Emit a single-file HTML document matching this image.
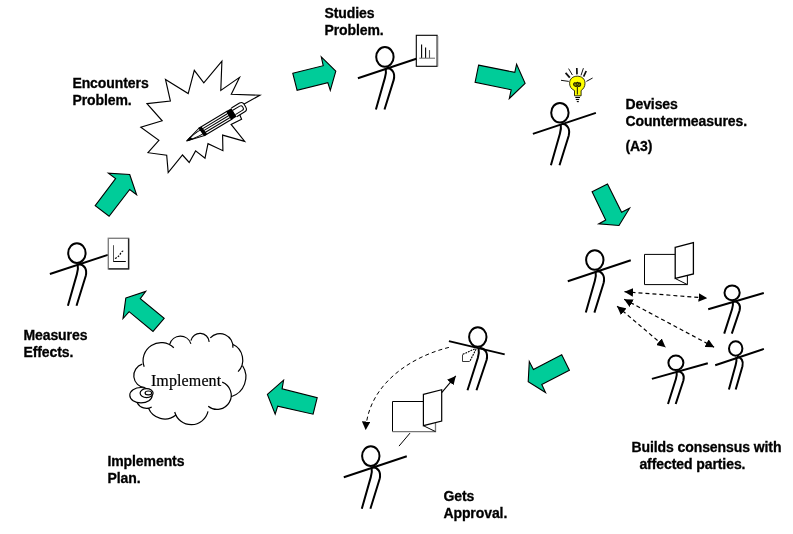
<!DOCTYPE html>
<html><head><meta charset="utf-8">
<style>
html,body{margin:0;padding:0;background:#fff;}
body{width:793px;height:534px;overflow:hidden;position:relative;}
svg{position:absolute;left:0;top:0;will-change:transform;}
.t{font-family:"Liberation Sans",sans-serif;font-weight:bold;font-size:14px;letter-spacing:-0.08px;fill:#000;stroke:#000;stroke-width:0.3px;}
.ar{fill:#00CC99;stroke:#000;stroke-width:1.1;stroke-linejoin:miter;}
.sf{fill:none;stroke:#000;stroke-width:2;stroke-linecap:butt;}
.dl{fill:none;stroke:#000;stroke-width:1.2;stroke-dasharray:4 3;}
</style></head>
<body>
<svg width="793" height="534" viewBox="0 0 793 534">
<defs>
  <g id="legs">
    <path class="sf" d="M0.8,11.4 Q1.6,15.5 0,21 L-9,52.6"/>
    <path class="sf" d="M1.6,10.8 C7.5,11.5 10.5,16 8.8,23 L-0.4,52.6"/>
  </g>
  <g id="fig">
    <ellipse class="sf" cx="0" cy="0" rx="8.7" ry="9.8"/>
    <line class="sf" x1="-27" y1="21.2" x2="36" y2="0.2"/>
    <use href="#legs"/>
  </g>
  <marker id="ah" viewBox="0 0 10 10" refX="10" refY="5" markerWidth="8.6" markerHeight="8.6" markerUnits="userSpaceOnUse" orient="auto-start-reverse">
    <path d="M0,0 L10,5 L0,10 z" fill="#000"/>
  </marker>
</defs>

<!-- Texts -->
<text class="t" x="72.4" y="87.7">Encounters</text>
<text class="t" x="72.4" y="105.4">Problem.</text>
<text class="t" x="324.4" y="18.2">Studies</text>
<text class="t" x="324.4" y="35.1">Problem.</text>
<text class="t" x="625.4" y="108.5">Devises</text>
<text class="t" x="625.4" y="125.7">Countermeasures.</text>
<text class="t" x="625.4" y="150.9">(A3)</text>
<text class="t" x="631.4" y="451.9">Builds consensus with</text>
<text class="t" x="639.4" y="468.6">affected parties.</text>
<text class="t" x="443.4" y="500.8">Gets</text>
<text class="t" x="443.4" y="517.5">Approval.</text>
<text class="t" x="107.4" y="465.6">Implements</text>
<text class="t" x="107.4" y="483.1">Plan.</text>
<text class="t" x="23.4" y="339.8">Measures</text>
<text class="t" x="23.4" y="357">Effects.</text>

<!-- Green arrows -->
<polygon class="ar" points="292.8,73.3 323.2,65.7 321.3,56.9 335.8,71.1 330.3,90.3 327.8,82.7 297.1,90.3"/>
<polygon class="ar" points="478.6,65.1 514.8,72.3 516.6,64.2 525.1,83.3 509.3,98.5 511.2,89.8 475.1,82.2"/>
<polygon class="ar" points="592.1,191.7 607.5,184.1 621.6,212.3 629.6,208.2 619,225.5 598.7,223.9 605.7,220.1"/>
<polygon class="ar" points="561.7,354.8 569.4,370.2 541.8,384.6 545.5,392.5 528.2,381.8 529.3,361.5 533.4,369.5"/>
<polygon class="ar" points="283.6,380.2 282.1,388.9 317.2,397.6 313.1,414.2 277.7,406.2 275.2,414.2 267.4,394.4"/>
<polygon class="ar" points="125.8,298.1 145.7,291.4 140.3,298.6 164.2,318.3 153,331.4 129.1,311.7 123,318.6"/>
<polygon class="ar" points="129.7,174.5 136.6,194.7 129.7,189.5 109.1,216.3 95.2,205.7 115.6,178.6 108.4,173.2"/>

<!-- Starburst -->
<polygon fill="#fff" stroke="#000" stroke-width="1.15" stroke-linejoin="miter" points="147,103.6 170.4,101 165.5,79.4 188.2,93.6 194.3,70.3 203.8,82.8 221.9,61.2 220.8,90.4 239.5,77.4 231.3,94.2 259.9,95.2 237,108 241.6,119.2 231.1,124.4 244.7,141.4 222.6,135.1 222.9,150.7 208,143.7 205,158.2 195.6,150.9 189.2,162.5 182.5,155 168.2,172.6 166.7,155.3 148,152.7 158.9,140.3 140.8,127.2 162.2,120.8"/>

<!-- Pencil -->
<g transform="translate(186.5,141) rotate(-31)">
  <path d="M0,0 L17.6,-4.6 L18.4,4.6 Z" fill="#fff" stroke="#000" stroke-width="1"/>
  <path d="M1,0.3 C8,-2 12,-2.6 17.8,-2.3 M1,0.3 C8,1.5 13,2.6 18.2,2.3" fill="none" stroke="#000" stroke-width="0.9"/>
  <path d="M-0.5,0 L5.5,-1.8 L6.2,2 Z" fill="#000"/>
  <path d="M17.6,-4.6 L50,-4.6 L50,4.6 L18.4,4.6 Z" fill="#fff" stroke="#000" stroke-width="1.1"/>
  <line x1="17.9" y1="-2.3" x2="50" y2="-2.3" stroke="#000" stroke-width="1"/>
  <line x1="18.1" y1="0" x2="50" y2="0" stroke="#000" stroke-width="1"/>
  <line x1="18.3" y1="2.3" x2="50" y2="2.3" stroke="#000" stroke-width="1"/>
  <path d="M16.8,-4.8 L20.3,-4.8 L21.3,4.8 L17.8,4.8 Z" fill="#000"/>
  <rect x="49.3" y="-5" width="6.4" height="10" fill="#000"/>
  <path d="M55.5,-5.2 L65,-5.2 Q68.3,-5.2 68.3,-1.5 L68.3,1.3 Q68.3,5 65,5 L55.5,5" fill="#fff" stroke="#000" stroke-width="1.1"/>
  <path d="M55.5,-2.5 L63.6,-2.5 Q65.7,-2.5 65.7,-0.5 L65.7,0.6 Q65.7,2.5 63.6,2.5 L55.5,2.5" fill="none" stroke="#000" stroke-width="1"/>
</g>

<!-- Doc with chart (Studies) -->
<rect x="416.3" y="35.3" width="20.8" height="31" fill="#fff" stroke="#000" stroke-width="1.1"/>
<line x1="437.8" y1="36" x2="437.8" y2="66.5" stroke="#888" stroke-width="1"/>
<line x1="421.6" y1="44.4" x2="421.6" y2="58" stroke="#000" stroke-width="1.1"/>
<line x1="425.6" y1="47.5" x2="425.6" y2="58" stroke="#000" stroke-width="1.1"/>
<line x1="429.5" y1="50.1" x2="429.5" y2="58" stroke="#555" stroke-width="1.1"/>
<line x1="419.3" y1="58.2" x2="435" y2="58.2" stroke="#666" stroke-width="1"/>

<!-- Stick figures -->
<g transform="translate(384.9,56.9)">
  <ellipse class="sf" cx="0" cy="0" rx="8.7" ry="9.8"/>
  <line class="sf" x1="-27" y1="21.3" x2="31.4" y2="1.8"/>
  <use href="#legs"/>
</g>
<use href="#fig" transform="translate(559.9,112.7)"/>
<use href="#fig" transform="translate(594.8,260)"/>
<g transform="translate(732.1,292.8)">
  <ellipse class="sf" cx="0" cy="0" rx="7.6" ry="7.4" stroke-width="1.8"/>
  <line class="sf" x1="-23.9" y1="16.5" x2="31.7" y2="0.2" stroke-width="1.8"/>
  <path class="sf" stroke-width="1.8" d="M0.70,8.6 Q1.30,12 0,16.2 L-7.9,40.8"/>
  <path class="sf" stroke-width="1.8" d="M1.30,8.2 C6.30,8.7 8.90,12.3 7.50,17.7 L-0.3,40.8"/>
</g>
<g transform="translate(675.9,362.8)">
  <ellipse class="sf" cx="0" cy="0" rx="7.5" ry="7.3" stroke-width="1.8"/>
  <line class="sf" x1="-24" y1="16.1" x2="31.9" y2="0.5" stroke-width="1.8"/>
  <path class="sf" stroke-width="1.8" d="M0.70,8.6 Q1.30,12 0,16.2 L-7.9,41.2"/>
  <path class="sf" stroke-width="1.8" d="M1.30,8.2 C6.30,8.7 8.90,12.3 7.50,17.7 L-0.2,41.2"/>
</g>
<g transform="translate(735.7,348.5)">
  <ellipse class="sf" cx="0" cy="0" rx="6.7" ry="7.3" stroke-width="1.8"/>
  <line class="sf" x1="-20.5" y1="16.7" x2="28.2" y2="0.4" stroke-width="1.8"/>
  <path class="sf" stroke-width="1.8" d="M0.63,8.6 Q1.17,12 0,16.2 L-6.8,41"/>
  <path class="sf" stroke-width="1.8" d="M1.17,8.2 C5.67,8.7 8.01,12.3 6.75,17.7 L0,41"/>
</g>
<use href="#fig" transform="translate(370.8,456.1)"/>
<g transform="translate(76.9,253.1)">
  <ellipse class="sf" cx="0" cy="0" rx="8.7" ry="9.8"/>
  <line class="sf" x1="-27" y1="20.9" x2="31" y2="1.8"/>
  <use href="#legs"/>
</g>
<!-- Approval top figure -->
<g transform="translate(477.8,337)">
  <ellipse class="sf" cx="0" cy="0" rx="8.7" ry="9.8"/>
  <line class="sf" x1="-28.9" y1="4.1" x2="26.9" y2="17.4"/>
  <path class="sf" d="M0.8,11.4 Q1.6,15.5 0,21 L-10.3,53.2"/>
  <path class="sf" d="M1.6,10.8 C7.5,11.5 10.5,16 8.8,23 L-1.3,53.2"/>
</g>
<path d="M462.5,354.5 L462.5,361.5 L469.7,361.5" fill="none" stroke="#222" stroke-width="0.9"/>
<path d="M474.7,348.9 L462.5,354.5 M476.1,349.1 L469.7,361.5" fill="none" stroke="#000" stroke-width="1.1" stroke-dasharray="1.8 1"/>

<!-- Lightbulb -->
<g>
  <g stroke="#111" stroke-width="1">
    <line x1="561" y1="80.3" x2="568.8" y2="81.4"/>
    <line x1="565.6" y1="72.8" x2="569.8" y2="77.6" stroke-width="1.8"/>
    <line x1="568.6" y1="68.6" x2="572.4" y2="75"/>
    <line x1="576.8" y1="68" x2="577" y2="74.4" stroke-width="1.7"/>
    <line x1="583.4" y1="68.2" x2="581" y2="75.4"/>
    <line x1="586.2" y1="71" x2="583.6" y2="76.6" stroke-width="1.7"/>
    <line x1="592.6" y1="78" x2="586.4" y2="81.4"/>
  </g>
  <path d="M574.5,95.8 L574.5,90.6 C571.2,89 569.6,86.5 569.6,83.3 C569.6,78.8 572.8,76.2 577.3,76.2 C581.8,76.2 585,78.8 585,83.3 C585,86.5 583.4,89 581.1,90.6 L581.1,95.8 Z" fill="#ffff00" stroke="#1a1a00" stroke-width="0.9"/>
  <path d="M573.6,84.5 C573.6,82.5 575.5,82.2 576.2,83.6 C576.6,82 578.4,82 578.8,83.6 C579.5,82.2 581,82.8 580.6,85 C580,86.6 578,86.8 577.3,85.6 C576.6,86.8 574,86.6 573.6,84.5 Z" fill="#8a8a00" stroke="#1a1a00" stroke-width="1.1"/>
  <line x1="577.4" y1="87" x2="577.4" y2="94.5" stroke="#3a3a00" stroke-width="1.2"/>
  <g stroke="#000" stroke-width="1.1">
    <line x1="575.3" y1="97.5" x2="580" y2="97.5"/>
    <line x1="575.8" y1="99.5" x2="579.2" y2="99.5"/>
    <line x1="576.8" y1="101.6" x2="578.8" y2="101.6"/>
  </g>
</g>

<!-- Consensus docs -->
<g fill="#fff" stroke="#000" stroke-width="1">
  <path d="M675.2,254.4 L644.5,254.4 L644.5,284.6 L687.4,284.6 L687.4,275.6"/>
  <polygon points="675.2,247.3 693.4,242.5 693.4,274 675.2,278.5" stroke-width="1.3"/>
  <line x1="675.2" y1="278.5" x2="687.4" y2="284.6"/>
</g>
<!-- Dashed double arrows -->
<line class="dl" x1="624.5" y1="291.7" x2="707.2" y2="298.1" marker-start="url(#ah)" marker-end="url(#ah)"/>
<line class="dl" x1="624.1" y1="299.2" x2="714.2" y2="347.2" marker-start="url(#ah)" marker-end="url(#ah)"/>
<line class="dl" x1="617.1" y1="306.2" x2="665.5" y2="347.2" marker-start="url(#ah)" marker-end="url(#ah)"/>

<!-- Approval docs -->
<g fill="#fff" stroke="#000" stroke-width="1">
  <path d="M423.4,401.5 L392.5,401.5 L392.5,431.6"/>
  <path d="M392.5,431.6 L435.5,431.6 L435.5,423.1" stroke="#777" stroke-width="1.3"/>
  <polygon points="423.4,394.3 441.7,389.7 441.7,421.1 423.4,425.7" stroke-width="1.2"/>
  <line x1="423.4" y1="425.7" x2="435.5" y2="431.6"/>
</g>
<line x1="441.7" y1="392.6" x2="455.8" y2="375.9" stroke="#000" stroke-width="1.1" marker-end="url(#ah)"/>
<line x1="410" y1="433.1" x2="399" y2="446.1" stroke="#000" stroke-width="1"/>
<path class="dl" style="stroke-width:1" d="M448.9,347.4 C410,357 368,385 365.7,430.1" marker-end="url(#ah)"/>

<!-- Cloud -->
<path d="M144.2,366.8 A18.01,18.01 0 0 1 173.8,347.8 M169.8,344.2 A11.06,11.06 0 0 1 190.9,343.7 M190.9,340.6 A9.27,9.27 0 0 1 209.2,341.9 M210.3,337.9 A12.99,12.99 0 0 1 232.9,347.8 M232.7,344.2 A17.22,17.22 0 0 1 238.1,371.6 M242.6,365.8 A20.74,20.74 0 0 1 231.1,396.8 M222.2,382.1 A14.11,14.11 0 1 1 208.2,406.2 M208.0,411.4 A17.17,17.17 0 0 1 174.7,412.0 M175.6,415.3 A17.70,17.70 0 0 1 148.5,408.3 M137.2,402.7 A10.45,10.45 0 0 0 151.7,406.9 M142.2,364.1 A12.11,12.11 0 0 0 144.9,387.7" fill="none" stroke="#000" stroke-width="1.2"/>
<g fill="#fff" stroke="#000" stroke-width="1.2">
  <ellipse cx="141" cy="395.2" rx="11.2" ry="7.7"/>
  <ellipse cx="146.6" cy="393.1" rx="6.5" ry="4.5"/>
  <ellipse cx="148.4" cy="392.9" rx="3.3" ry="1.9"/>
</g>
<text x="150.9" y="385.6" font-family="Liberation Serif, serif" font-size="16px" letter-spacing="0.12" fill="#000" stroke="#000" stroke-width="0.2">Implement</text>

<!-- Measures doc -->
<rect x="108.3" y="238.3" width="20.3" height="30.6" fill="#fff" stroke="#808080" stroke-width="1.4"/>
<path d="M128.6,238.5 L128.6,268.9 L108.5,268.9" fill="none" stroke="#222" stroke-width="1.3"/>
<line x1="113.5" y1="245.2" x2="113.5" y2="261.5" stroke="#555" stroke-width="1"/>
<line x1="113.3" y1="261.5" x2="125.8" y2="261.5" stroke="#000" stroke-width="1"/>
<path d="M115,258.6 C118,256.5 119.5,256 120.5,253.5 C121.5,251.5 122.5,251 123.5,251" fill="none" stroke="#000" stroke-width="1.2" stroke-dasharray="1.8 1.4"/>
</svg>
</body></html>
